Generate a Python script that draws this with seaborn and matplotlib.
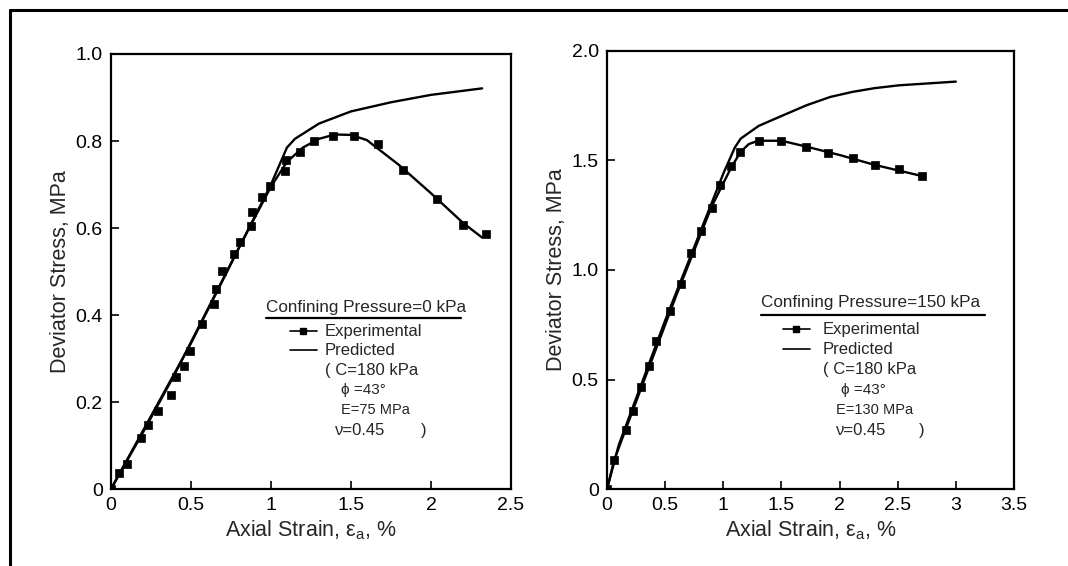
import numpy as np
import pandas as pd
import matplotlib
matplotlib.use("Agg")
import matplotlib.pyplot as plt
from matplotlib.lines import Line2D
import seaborn as sns

# ---- panel (a): confining pressure 0 kPa ----
exp0_x = [0, 0.053, 0.10, 0.188, 0.229, 0.293, 0.374, 0.406, 0.455, 0.491, 0.571, 0.647, 0.658,
          0.697, 0.769, 0.808, 0.876, 0.882, 0.946, 0.994, 1.085, 1.094, 1.18, 1.27, 1.39, 1.517,
          1.67, 1.827, 2.04, 2.2, 2.346]
exp0_y = [0, 0.0375, 0.058, 0.117, 0.148, 0.179, 0.215, 0.257, 0.283, 0.317, 0.379, 0.425, 0.46,
          0.502, 0.54, 0.567, 0.604, 0.6375, 0.671, 0.6975, 0.731, 0.757, 0.775, 0.80, 0.8125, 0.8125,
          0.792, 0.733, 0.667, 0.606, 0.586]
fit0_x = [0, 0.2, 0.4, 0.6, 0.8, 1.0, 1.1, 1.2, 1.3, 1.4, 1.5, 1.6, 1.8, 2.0, 2.2, 2.32]
fit0_y = [0, 0.13, 0.265, 0.41, 0.555, 0.695, 0.752, 0.785, 0.805, 0.815, 0.814, 0.802, 0.745, 0.68, 0.612, 0.578]
pred0_x = [0, 0.5, 1.0, 1.1, 1.15, 1.3, 1.5, 1.75, 2.0, 2.32]
pred0_y = [0, 0.335, 0.70, 0.785, 0.805, 0.84, 0.868, 0.889, 0.906, 0.921]

# ---- panel (b): confining pressure 150 kPa ----
exp150_x = [0, 0.059, 0.161, 0.22, 0.293, 0.361, 0.425, 0.543, 0.637, 0.725, 0.807, 0.90, 0.974,
            1.07, 1.144, 1.305, 1.496, 1.707, 1.898, 2.112, 2.309, 2.508, 2.705]
exp150_y = [0, 0.132, 0.269, 0.355, 0.468, 0.562, 0.678, 0.815, 0.934, 1.078, 1.177, 1.284, 1.388,
            1.476, 1.537, 1.59, 1.59, 1.562, 1.534, 1.512, 1.479, 1.463, 1.43]
fit150_x = [0, 0.06, 0.3, 0.6, 0.9, 1.07, 1.15, 1.22, 1.3, 1.5, 1.7, 2.0, 2.3, 2.7]
fit150_y = [0, 0.13, 0.47, 0.89, 1.29, 1.47, 1.54, 1.575, 1.59, 1.59, 1.565, 1.525, 1.48, 1.43]
pred150_x = [0, 0.1, 0.5, 1.0, 1.1, 1.15, 1.305, 1.496, 1.716, 1.92, 2.11, 2.30, 2.51, 3.0]
pred150_y = [0, 0.2, 0.77, 1.44, 1.56, 1.60, 1.658, 1.702, 1.752, 1.79, 1.813, 1.83, 1.843, 1.86]

xticks0 = [0, 0.5, 1, 1.5, 2, 2.5]
xlabels0 = ["0", "0.5", "1", "1.5", "2", "2.5"]
yticks0 = [0, 0.2, 0.4, 0.6, 0.8, 1.0]
ylabels0 = ["0", "0.2", "0.4", "0.6", "0.8", "1.0"]
xticks150 = [0, 0.5, 1, 1.5, 2, 2.5, 3, 3.5]
xlabels150 = ["0", "0.5", "1", "1.5", "2", "2.5", "3", "3.5"]
yticks150 = [0, 0.5, 1.0, 1.5, 2.0]
ylabels150 = ["0", "0.5", "1.0", "1.5", "2.0"]

sns.set_style("ticks")
plt.rcParams['font.family'] = ['Liberation Sans', 'DejaVu Sans']
plt.rcParams['mathtext.fontset'] = 'custom'
plt.rcParams['mathtext.rm'] = 'Liberation Sans'
plt.rcParams['mathtext.it'] = 'Liberation Sans:italic'

fig = plt.figure(figsize=(10.68, 5.66), dpi=100)
ax1 = fig.add_axes([0.1039, 0.136, 0.3745, 0.7686])
ax2 = fig.add_axes([0.5684, 0.136, 0.381, 0.774])

# outer frame (top and left edges only visible)
fig.add_artist(Line2D([10/1068, 1.0], [1-10/566, 1-10/566], color='black', lw=2.2))
fig.add_artist(Line2D([10/1068, 10/1068], [0, 1-10/566], color='black', lw=2.2))


def draw_panel(ax, ex, ey, fx, fy, px, py, xt, xl, yt, yl, xmax, ymax, title, params, pos):
    sns.lineplot(x=fx, y=fy, ax=ax, color='black', lw=1.7, sort=False, estimator=None)
    sns.lineplot(x=px, y=py, ax=ax, color='black', lw=1.7, sort=False, estimator=None)
    sns.scatterplot(x=ex, y=ey, ax=ax, color='black', marker='s', s=26, edgecolor='black', linewidth=0.5)
    ax.set_xlim(0, xmax)
    ax.set_ylim(0, ymax)
    ax.set_xticks(xt)
    ax.set_xticklabels(xl)
    ax.set_yticks(yt)
    ax.set_yticklabels(yl)
    ax.tick_params(direction='in', length=6, width=1.2, labelsize=14, pad=6, colors='black')
    for sp in ax.spines.values():
        sp.set_linewidth(1.6)
        sp.set_color('black')
    ax.set_xlabel(r"Axial Strain, $\mathregular{\varepsilon_a}$, %", fontsize=15.5, labelpad=3)
    ax.set_ylabel("Deviator Stress, MPa", fontsize=15.5, labelpad=3)

    tx, ty, ux, lx0, lx1, ex_x, phx, epx, nux, parx, ys = pos
    ax.text(tx, ty, title, transform=ax.transAxes, fontsize=12.3, va='center', ha='left')
    ax.plot([tx, ux], [ys[0], ys[0]], transform=ax.transAxes, color='black', lw=1.6)
    ax.plot([lx0, lx1], [ys[1], ys[1]], transform=ax.transAxes, color='black', lw=1.2)
    ax.plot([(lx0 + lx1) / 2], [ys[1]], transform=ax.transAxes, color='black', marker='s', ms=4)
    ax.plot([lx0, lx1], [ys[2], ys[2]], transform=ax.transAxes, color='black', lw=1.2)
    ax.text(ex_x, ys[1], "Experimental", transform=ax.transAxes, fontsize=12, va='center')
    ax.text(ex_x, ys[2], "Predicted", transform=ax.transAxes, fontsize=12, va='center')
    ax.text(ex_x, ys[3], "( C=180 kPa", transform=ax.transAxes, fontsize=12, va='center')
    ax.text(phx, ys[4], "\u03d5 =43\u00b0", transform=ax.transAxes, fontsize=11, va='center')
    ax.text(epx, ys[5], params[0], transform=ax.transAxes, fontsize=10.5, va='center')
    ax.text(nux, ys[6], params[1], transform=ax.transAxes, fontsize=12, va='center')
    ax.text(parx, ys[6], ")", transform=ax.transAxes, fontsize=12, va='center')


draw_panel(ax1, exp0_x, exp0_y, fit0_x, fit0_y, pred0_x, pred0_y,
           xticks0, xlabels0, yticks0, ylabels0, 2.5, 1.0,
           "Confining Pressure=0 kPa", ["E=75 MPa", "\u03bd=0.45"],
           (0.3875, 0.418, 0.875, 0.4475, 0.515, 0.535, 0.575, 0.575, 0.56, 0.775,
            [0.393, 0.363, 0.3195, 0.2736, 0.2276, 0.1816, 0.1356]))
draw_panel(ax2, exp150_x, exp150_y, fit150_x, fit150_y, pred150_x, pred150_y,
           xticks150, xlabels150, yticks150, ylabels150, 3.5, 2.0,
           "Confining Pressure=150 kPa", ["E=130 MPa", "\u03bd=0.45"],
           (0.378, 0.4247, 0.929, 0.432, 0.499, 0.531, 0.575, 0.563, 0.563, 0.767,
            [0.397, 0.365, 0.3196, 0.2717, 0.226, 0.1804, 0.1347]))

fig.savefig("out.png", dpi=100)
